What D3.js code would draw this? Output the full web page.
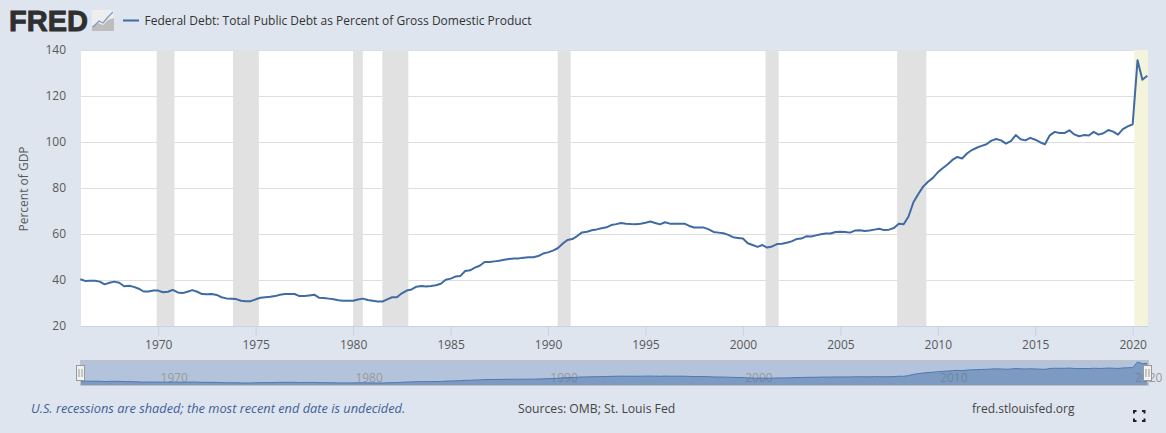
<!DOCTYPE html>
<html>
<head>
<meta charset="utf-8">
<script src="https://cdnjs.cloudflare.com/ajax/libs/d3/7.8.5/d3.min.js"></script>
<style>
  html, body { margin: 0; padding: 0; background: #dee5ef; }
  svg { display: block; }
  text { font-family: "Open Sans", sans-serif; }
</style>
</head>
<body>
<div id="chart"></div>
<script>
// quarterly values, 1966 Q1 .. 2020 Q4
const startYear = 1966;
const debtValues = [
  40.3, 39.6, 39.7, 39.7,  39.3, 38.1, 38.8, 39.3,  38.8, 37.3, 37.5, 37.0,  36.2, 35.0, 35.0, 35.4,
  35.4, 34.7, 34.9, 35.7,  34.6, 34.3, 34.9, 35.6,  34.9, 33.9, 33.8, 33.9,  33.5, 32.5, 32.0, 31.9,
  31.7, 31.0, 30.8, 30.8,  31.6, 32.3, 32.5, 32.7,  33.0, 33.6, 33.9, 33.9,  33.9, 33.0, 33.0, 33.3,
  33.6, 32.3, 32.2, 31.9,  31.6, 31.2, 31.0, 31.0,  31.0, 31.5, 31.9, 31.3,  31.0, 30.7, 30.6, 31.6,
  32.5, 32.5, 34.2, 35.4,  35.9, 37.1, 37.4, 37.2,  37.4, 37.7, 38.4, 40.1,  40.6, 41.5, 41.7, 43.9,
  44.2, 45.4, 46.2, 47.8,  47.8, 48.1, 48.4, 48.8,  49.1, 49.3, 49.4, 49.7,  49.9, 49.9, 50.4, 51.5,
  52.0, 52.8, 53.8, 55.8,  57.4, 57.8, 59.1, 60.7,  61.0, 61.6, 62.0, 62.5,  62.9, 63.9, 64.3, 64.8,
  64.5, 64.3, 64.2, 64.5,  64.9, 65.4, 64.8, 64.2,  65.1, 64.5, 64.5, 64.5,  64.5, 63.5, 62.8, 62.8,
  62.8, 62.0, 60.9, 60.6,  60.3, 59.6, 58.6, 58.3,  58.0, 56.0, 55.2, 54.4,  55.2, 54.1, 54.6, 55.6,
  55.8, 56.2, 56.8, 57.8,  58.0, 59.0, 58.9, 59.4,  59.9, 60.2, 60.2, 60.9,  61.0, 60.9, 60.6, 61.5,
  61.6, 61.3, 61.5, 61.9,  62.3, 61.7, 61.9, 62.6,  64.5, 64.2, 67.6, 73.8,  77.4, 80.6, 82.7, 84.4,
  86.8, 88.6, 90.2, 92.2,  93.5, 92.8, 95.0, 96.5,  97.5, 98.3, 99.0, 100.6,  101.3, 100.7, 99.3, 100.4,
  103.0, 101.2, 100.7, 101.8,  101.0, 99.9, 99.0, 102.9,  104.4, 103.9, 103.9, 105.1,  103.3, 102.5, 103.0, 102.8,
  104.4, 103.2, 103.8, 105.2,  104.5, 103.2, 105.6, 106.8,  107.7, 135.5, 127.1, 128.8
];
const recessionStarts = ["1969-12-01", "1973-11-01", "1980-01-01", "1981-07-01", "1990-07-01", "2001-03-01", "2007-12-01"];
const recessionEnds = ["1970-11-01", "1975-03-01", "1980-07-01", "1982-11-01", "1991-03-01", "2001-11-01", "2009-06-01"];
const openRecessionStart = "2020-02-01";
const yTicks = [20, 40, 60, 80, 100, 120, 140];
const xTickYears = [1970, 1975, 1980, 1985, 1990, 1995, 2000, 2005, 2010, 2015, 2020];
const navTickYears = [1970, 1980, 1990, 2000, 2010, 2020];

const W = 1166, H = 433;
const plot = {left: 81, right: 1148, top: 50, bottom: 326};
const nav = {top: 361, bottom: 385};

const parseDay = d3.utcParse("%Y-%m-%d");
const debt = debtValues.map((v, i) => ({
  date: new Date(Date.UTC(startYear + Math.floor(i / 4), (i % 4) * 3, 1)),
  value: v
}));
const lastDate = debt[debt.length - 1].date;

const svg = d3.select("#chart").append("svg")
  .attr("width", W)
  .attr("height", H);

// ticks in the picture sit a bit left of the frame ends
const x = d3.scaleUtc()
  .domain([debt[0].date, lastDate])
  .range([plot.left - 0.7, plot.right - 0.7]);

const y = d3.scaleLinear()
  .domain([20, 140])
  .range([plot.bottom, plot.top]);

// plot background
svg.append("rect")
  .attr("x", plot.left)
  .attr("y", plot.top)
  .attr("width", plot.right - plot.left)
  .attr("height", plot.bottom - plot.top)
  .attr("fill", "#ffffff");

// y axis, gridlines across the plot
const yAxis = svg.append("g")
  .attr("transform", `translate(${plot.left},0)`)
  .call(d3.axisLeft(y).tickValues(yTicks).tickSize(-(plot.right - plot.left)).tickPadding(15));
yAxis.select(".domain").remove();
yAxis.selectAll(".tick line").attr("stroke", "#dedede").attr("stroke-width", 1);
yAxis.selectAll(".tick text")
  .attr("fill", "#595959")
  .style("font-size", "12px");

// recession bands
recessionStarts.forEach(function(s, i) {
  const x0 = x(parseDay(s)), x1 = x(parseDay(recessionEnds[i]));
  svg.append("rect")
    .attr("class", "recession")
    .attr("x", x0)
    .attr("y", plot.top)
    .attr("width", x1 - x0)
    .attr("height", plot.bottom - plot.top)
    .attr("fill", "#e1e1e1");
});
svg.append("rect")
  .attr("x", x(parseDay(openRecessionStart)))
  .attr("y", plot.top)
  .attr("width", plot.right - x(parseDay(openRecessionStart)))
  .attr("height", plot.bottom - plot.top)
  .attr("fill", "#f4f3dc");

// x axis
const xAxis = svg.append("g")
  .attr("transform", `translate(0,${plot.bottom})`)
  .call(d3.axisBottom(x)
    .tickValues(xTickYears.map(yr => new Date(Date.UTC(yr, 0, 1))))
    .tickFormat(d3.utcFormat("%Y"))
    .tickSize(10)
    .tickPadding(4));
xAxis.select(".domain").attr("stroke", "#c5d3e8").attr("d", `M${plot.left},0.5H${plot.right}`);
xAxis.selectAll(".tick line").attr("stroke", "#c5d3e8");
xAxis.selectAll(".tick text")
  .attr("fill", "#595959")
  .style("font-size", "12px");

svg.append("text")
  .attr("transform", `translate(28,${(plot.top + plot.bottom) / 2 + 1}) rotate(-90)`)
  .attr("text-anchor", "middle")
  .attr("fill", "#595959")
  .style("font-size", "12px")
  .text("Percent of GDP");

// main line
const line = d3.line()
  .x(d => x(d.date))
  .y(d => y(d.value));

svg.append("path")
  .datum(debt)
  .attr("fill", "none")
  .attr("stroke", "#3f6aa3")
  .attr("stroke-width", 2)
  .attr("stroke-linejoin", "round")
  .attr("d", line);

// navigator
const navY = d3.scaleLinear()
  .domain([d3.min(debtValues), d3.max(debtValues)])
  .range([383, 362]);

svg.append("rect")
  .attr("x", plot.left)
  .attr("y", nav.top)
  .attr("width", plot.right - plot.left)
  .attr("height", nav.bottom - nav.top)
  .attr("fill", "#b3c3dc");

// labels go under the series so 2010 only shows faintly
svg.selectAll(".nav-label")
  .data(navTickYears)
  .enter()
  .append("text")
    .attr("class", "nav-label")
    .attr("x", yr => x(new Date(Date.UTC(yr, 0, 1))) + 16)
    .attr("y", 382)
    .attr("text-anchor", "middle")
    .attr("fill", "#999999")
    .style("font-size", "12px")
    .text(yr => yr);

svg.append("path")
  .datum(debt)
  .attr("fill", "#4572a7")
  .attr("fill-opacity", 0.5)
  .attr("d", d3.area().x(d => x(d.date)).y0(nav.bottom).y1(d => navY(d.value)));

svg.append("path")
  .datum(debt)
  .attr("fill", "none")
  .attr("stroke", "#4f78ae")
  .attr("stroke-width", 1)
  .attr("d", d3.line().x(d => x(d.date)).y(d => navY(d.value)));

svg.append("rect")
  .attr("x", plot.left - 0.5)
  .attr("y", nav.top - 0.5)
  .attr("width", plot.right - plot.left + 1)
  .attr("height", nav.bottom - nav.top + 1)
  .attr("fill", "none")
  .attr("stroke", "#c2c2c2");

// navigator handles
[plot.left - 0.5, plot.right - 0.5].forEach(function(hx) {
  const g = svg.append("g").attr("transform", `translate(${hx},${nav.top + 12})`);
  g.append("rect")
    .attr("x", -4).attr("y", -7.5).attr("width", 8).attr("height", 15)
    .attr("fill", "#f2f2f2").attr("stroke", "#999999");
  g.append("path").attr("d", "M-1.5,-4V4M1.5,-4V4").attr("stroke", "#999999").attr("fill", "none");
});

// header: logo and legend
svg.append("text")
  .attr("x", 9)
  .attr("y", 31)
  .attr("fill", "#2f2f30")
  .style("font-family", "'Liberation Sans', sans-serif")
  .style("font-weight", 700)
  .style("font-size", "29px")
  .style("stroke", "#2f2f30")
  .style("stroke-width", 0.9)
  .text("FRED");

// logo icon, a small fixed glyph
const icon = svg.append("g").attr("transform", "translate(92,10)");
icon.append("rect").attr("width", 22).attr("height", 21).attr("fill", "#eeeeee");
icon.append("path").attr("d", "M0,21V16L6,13L11,15L16,10L22,8V21Z").attr("fill", "#bdbdbd");
icon.append("path").attr("d", "M1,17L7,11L11,13L16,7L21,2").attr("fill", "none").attr("stroke", "#7f9cc4").attr("stroke-width", 1.3);

svg.append("line")
  .attr("x1", 123).attr("x2", 139)
  .attr("y1", 20.5).attr("y2", 20.5)
  .attr("stroke", "#3f6aa3")
  .attr("stroke-width", 2);

svg.append("text")
  .attr("x", 144.5)
  .attr("y", 25)
  .attr("fill", "#333333")
  .style("font-size", "12px")
  .text("Federal Debt: Total Public Debt as Percent of Gross Domestic Product");

// footer
svg.append("text")
  .attr("x", 31)
  .attr("y", 413)
  .attr("fill", "#3e5f97")
  .style("font-size", "12.8px")
  .style("font-style", "italic")
  .text("U.S. recessions are shaded; the most recent end date is undecided.");

svg.append("text")
  .attr("x", 518)
  .attr("y", 413)
  .attr("fill", "#444444")
  .style("font-size", "12.2px")
  .text("Sources: OMB; St. Louis Fed");

svg.append("text")
  .attr("x", 972)
  .attr("y", 413)
  .attr("fill", "#444444")
  .style("font-size", "12px")
  .text("fred.stlouisfed.org");

// fullscreen icon
svg.append("path")
  .attr("d", "M1134,413.5V411H1136.5M1142,411H1144.5V413.5M1144.5,418.5V421H1142M1136.5,421H1134V418.5")
  .attr("fill", "none")
  .attr("stroke", "#222222")
  .attr("stroke-width", 2);
</script>
</body>
</html>
